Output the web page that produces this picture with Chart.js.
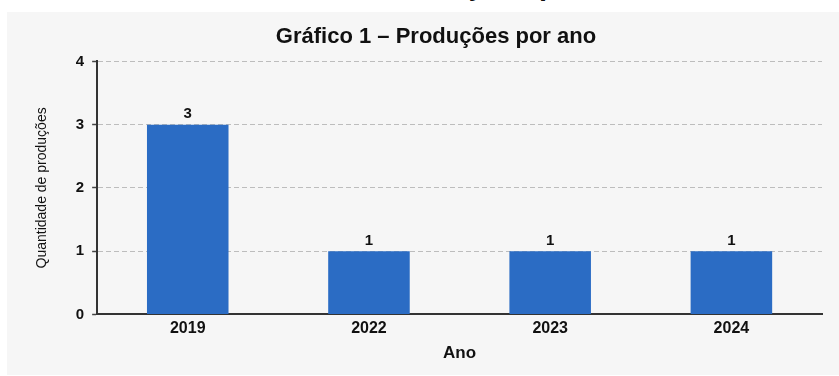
<!DOCTYPE html>
<html lang="pt">
  <head>
    <title>Gráfico 1 – Produções por ano</title>
    <meta charset="utf-8" />
    <script src="https://cdn.jsdelivr.net/npm/chart.js"></script>
    <style>
      html,
      body {
        margin: 0;
        padding: 0;
        width: 839px;
        height: 376px;
        overflow: hidden;
        background: #ffffff;
        font-family: "Liberation Sans", Arial, sans-serif;
      }
      .cut-caption {
        position: absolute;
        left: 381px;
        top: -29px;
        font-size: 29px;
        line-height: 29px;
        font-weight: bold;
        color: #111;
        white-space: nowrap;
      }
      .panel {
        position: absolute;
        left: 7px;
        top: 12px;
        right: 0;
        bottom: 1px;
        background: #f6f6f6;
      }
      .chart {
        position: absolute;
        left: 0;
        top: 0;
        width: 839px;
        height: 376px;
      }
    </style>
  </head>
  <body>
    <div class="cut-caption">Produções por ano</div>
    <div class="panel"></div>
    <div class="chart"><canvas id="bar-chart"></canvas></div>

    <script>
      // dados do gráfico
      const anos = ["2019", "2022", "2023", "2024"];
      const producoes = [3, 1, 1, 1];
      const yTicks = [0, 1, 2, 3, 4];

      // rótulo com o valor em cima de cada barra
      const valorNasBarras = {
        id: "valorNasBarras",
        afterDatasetsDraw(chart) {
          const ctx = chart.ctx;
          const meta = chart.getDatasetMeta(0);
          ctx.save();
          ctx.font = "bold 15px 'Liberation Sans', Arial, sans-serif";
          ctx.fillStyle = "#111";
          ctx.textAlign = "center";
          ctx.textBaseline = "bottom";
          meta.data.forEach((bar, i) => {
            ctx.fillText(String(producoes[i]), bar.x, bar.y - 3);
          });
          ctx.restore();
        },
      };

      new Chart(document.getElementById("bar-chart"), {
        type: "bar",
        data: {
          labels: anos,
          datasets: [
            {
              label: "Produções",
              data: producoes,
              backgroundColor: "#2b6cc4",
              borderWidth: 0,
              barPercentage: 0.45,
              categoryPercentage: 1,
            },
          ],
        },
        options: {
          responsive: true,
          maintainAspectRatio: false,
          animation: false,
          layout: {
            padding: { left: 50, right: 17, top: 0, bottom: 12 },
          },
          plugins: {
            legend: { display: false },
            tooltip: { enabled: false },
            title: {
              display: true,
              text: "Gráfico 1 – Produções por ano",
              color: "#111",
              font: { family: "'Liberation Sans', Arial", size: 22, weight: "bold" },
              padding: { top: 24, bottom: 11 },
            },
          },
          scales: {
            x: {
              grid: { display: true, color: "rgba(0,0,0,0)", drawOnChartArea: false, drawTicks: false },
              border: { display: true, color: "#333", width: 2 },
              ticks: {
                color: "#111",
                padding: 5,
                font: { family: "'Liberation Sans', Arial", size: 16, weight: "bold" },
              },
              title: {
                display: true,
                text: "Ano",
                color: "#111",
                font: { family: "'Liberation Sans', Arial", size: 17, weight: "bold" },
                padding: { top: 0, bottom: 0 },
              },
            },
            y: {
              min: 0,
              max: 4,
              afterBuildTicks(scale) {
                scale.ticks = yTicks.map((v) => ({ value: v }));
              },
              grid: {
                color: "#bdbdbd",
                lineWidth: 1,
                tickLength: 5,
                tickColor: "#444",
                tickWidth: 1.5,
              },
              border: { display: true, color: "#333", width: 2, dash: [5, 3] },
              ticks: {
                color: "#111",
                padding: 8,
                font: { family: "'Liberation Sans', Arial", size: 15, weight: "bold" },
              },
              title: {
                display: true,
                text: "Quantidade de produções",
                color: "#111",
                font: { family: "'Liberation Sans', Arial", size: 14 },
                // título puxado para a esquerda da área reservada
                padding: { top: -16, bottom: 17 },
              },
            },
          },
        },
        plugins: [valorNasBarras],
      });
    </script>
  </body>
</html>
